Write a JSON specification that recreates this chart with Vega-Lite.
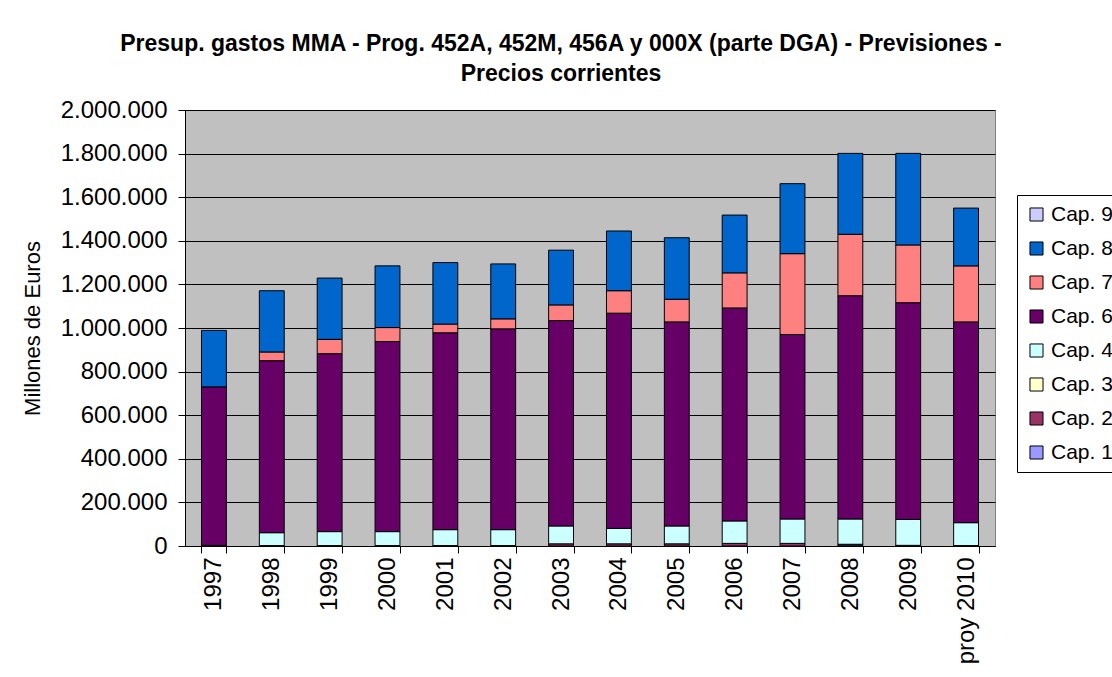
{
  "$schema": "https://vega.github.io/schema/vega-lite/v6.json",
  "autosize": "none",
  "width": 810,
  "height": 436,
  "padding": {"left": 185, "top": 110, "right": 117, "bottom": 131},
  "background": "white",
  "title": {
    "text": ["Presup. gastos MMA - Prog. 452A, 452M, 456A y 000X (parte DGA) - Previsiones -", "Precios corrientes"],
    "anchor": "middle",
    "dx": -29,
    "offset": 12,
    "font": "Liberation Sans",
    "fontSize": 23,
    "fontWeight": "bold",
    "color": "black",
    "lineHeight": 30
  },
  "data": {
    "values": [
      {"year": "1997", "cap": "Cap. 4", "value": 3000},
      {"year": "1997", "cap": "Cap. 6", "value": 727000},
      {"year": "1997", "cap": "Cap. 8", "value": 259000},
      {"year": "1998", "cap": "Cap. 2", "value": 2000},
      {"year": "1998", "cap": "Cap. 4", "value": 59000},
      {"year": "1998", "cap": "Cap. 6", "value": 789000},
      {"year": "1998", "cap": "Cap. 7", "value": 40000},
      {"year": "1998", "cap": "Cap. 8", "value": 281000},
      {"year": "1999", "cap": "Cap. 2", "value": 2000},
      {"year": "1999", "cap": "Cap. 4", "value": 64000},
      {"year": "1999", "cap": "Cap. 6", "value": 816000},
      {"year": "1999", "cap": "Cap. 7", "value": 66000},
      {"year": "1999", "cap": "Cap. 8", "value": 281000},
      {"year": "2000", "cap": "Cap. 2", "value": 2000},
      {"year": "2000", "cap": "Cap. 4", "value": 64000},
      {"year": "2000", "cap": "Cap. 6", "value": 872000},
      {"year": "2000", "cap": "Cap. 7", "value": 64000},
      {"year": "2000", "cap": "Cap. 8", "value": 283000},
      {"year": "2001", "cap": "Cap. 2", "value": 2000},
      {"year": "2001", "cap": "Cap. 4", "value": 73000},
      {"year": "2001", "cap": "Cap. 6", "value": 903000},
      {"year": "2001", "cap": "Cap. 7", "value": 40000},
      {"year": "2001", "cap": "Cap. 8", "value": 282000},
      {"year": "2002", "cap": "Cap. 2", "value": 2000},
      {"year": "2002", "cap": "Cap. 4", "value": 73000},
      {"year": "2002", "cap": "Cap. 6", "value": 921000},
      {"year": "2002", "cap": "Cap. 7", "value": 46000},
      {"year": "2002", "cap": "Cap. 8", "value": 252000},
      {"year": "2003", "cap": "Cap. 2", "value": 10000},
      {"year": "2003", "cap": "Cap. 4", "value": 82000},
      {"year": "2003", "cap": "Cap. 6", "value": 942000},
      {"year": "2003", "cap": "Cap. 7", "value": 72000},
      {"year": "2003", "cap": "Cap. 8", "value": 251000},
      {"year": "2004", "cap": "Cap. 2", "value": 10000},
      {"year": "2004", "cap": "Cap. 4", "value": 71000},
      {"year": "2004", "cap": "Cap. 6", "value": 987000},
      {"year": "2004", "cap": "Cap. 7", "value": 103000},
      {"year": "2004", "cap": "Cap. 8", "value": 274000},
      {"year": "2005", "cap": "Cap. 2", "value": 10000},
      {"year": "2005", "cap": "Cap. 4", "value": 82000},
      {"year": "2005", "cap": "Cap. 6", "value": 936000},
      {"year": "2005", "cap": "Cap. 7", "value": 104000},
      {"year": "2005", "cap": "Cap. 8", "value": 282000},
      {"year": "2006", "cap": "Cap. 2", "value": 12000},
      {"year": "2006", "cap": "Cap. 4", "value": 103000},
      {"year": "2006", "cap": "Cap. 6", "value": 977000},
      {"year": "2006", "cap": "Cap. 7", "value": 161000},
      {"year": "2006", "cap": "Cap. 8", "value": 265000},
      {"year": "2007", "cap": "Cap. 2", "value": 12000},
      {"year": "2007", "cap": "Cap. 4", "value": 112000},
      {"year": "2007", "cap": "Cap. 6", "value": 846000},
      {"year": "2007", "cap": "Cap. 7", "value": 371000},
      {"year": "2007", "cap": "Cap. 8", "value": 321000},
      {"year": "2008", "cap": "Cap. 1", "value": 5000},
      {"year": "2008", "cap": "Cap. 2", "value": 3000},
      {"year": "2008", "cap": "Cap. 4", "value": 116000},
      {"year": "2008", "cap": "Cap. 6", "value": 1024000},
      {"year": "2008", "cap": "Cap. 7", "value": 282000},
      {"year": "2008", "cap": "Cap. 8", "value": 371000},
      {"year": "2009", "cap": "Cap. 2", "value": 3000},
      {"year": "2009", "cap": "Cap. 4", "value": 119000},
      {"year": "2009", "cap": "Cap. 6", "value": 994000},
      {"year": "2009", "cap": "Cap. 7", "value": 265000},
      {"year": "2009", "cap": "Cap. 8", "value": 420000},
      {"year": "proy 2010", "cap": "Cap. 2", "value": 2000},
      {"year": "proy 2010", "cap": "Cap. 4", "value": 105000},
      {"year": "proy 2010", "cap": "Cap. 6", "value": 921000},
      {"year": "proy 2010", "cap": "Cap. 7", "value": 257000},
      {"year": "proy 2010", "cap": "Cap. 8", "value": 265000}
    ]
  },
  "mark": {"type": "bar", "stroke": "black", "strokeWidth": 1},
  "encoding": {
    "x": {
      "field": "year",
      "type": "nominal",
      "sort": null,
      "scale": {"paddingInner": 0.57, "paddingOuter": 0.285},
      "axis": {
        "title": null,
        "labelAngle": -90,
        "labelAlign": "right",
        "labelBaseline": "middle",
        "labelFont": "Liberation Sans",
        "labelFontSize": 24,
        "labelColor": "black",
        "labelPadding": 4,
        "tickBand": "extent",
        "tickColor": "black",
        "tickSize": 7,
        "domainColor": "black",
        "grid": false
      }
    },
    "y": {
      "field": "value",
      "type": "quantitative",
      "stack": "zero",
      "scale": {"domain": [0, 2000000], "nice": false},
      "axis": {
        "title": "Millones de Euros",
        "titleFont": "Liberation Sans",
        "titleFontSize": 22,
        "titleFontWeight": "normal",
        "titleColor": "black",
        "titlePadding": 16,
        "values": [0, 200000, 400000, 600000, 800000, 1000000, 1200000, 1400000, 1600000, 1800000, 2000000],
        "labelExpr": "replace(format(datum.value, ','), regexp(',', 'g'), '.')",
        "labelFont": "Liberation Sans",
        "labelFontSize": 24,
        "labelColor": "black",
        "labelPadding": 11,
        "tickColor": "black",
        "tickSize": 7,
        "domainColor": "black",
        "grid": true,
        "gridColor": "black",
        "gridWidth": 1
      }
    },
    "color": {
      "field": "cap",
      "type": "nominal",
      "scale": {
        "domain": ["Cap. 9", "Cap. 8", "Cap. 7", "Cap. 6", "Cap. 4", "Cap. 3", "Cap. 2", "Cap. 1"],
        "range": ["#CCCCFF", "#0066CC", "#FF8080", "#660066", "#CCFFFF", "#FFFFCC", "#993366", "#9999FF"]
      },
      "legend": {
        "title": null,
        "orient": "none",
        "legendX": 832,
        "legendY": 85,
        "strokeColor": "black",
        "fillColor": "white",
        "padding": 9,
        "symbolType": "square",
        "symbolSize": 170,
        "symbolStrokeColor": "black",
        "symbolStrokeWidth": 1,
        "labelFont": "Liberation Sans",
        "labelFontSize": 21,
        "labelColor": "black",
        "labelOffset": 4,
        "rowPadding": 12
      }
    },
    "order": {"field": "cap", "sort": "ascending"}
  },
  "config": {
    "view": {"fill": "#C0C0C0", "stroke": "#808080"}
  }
}
